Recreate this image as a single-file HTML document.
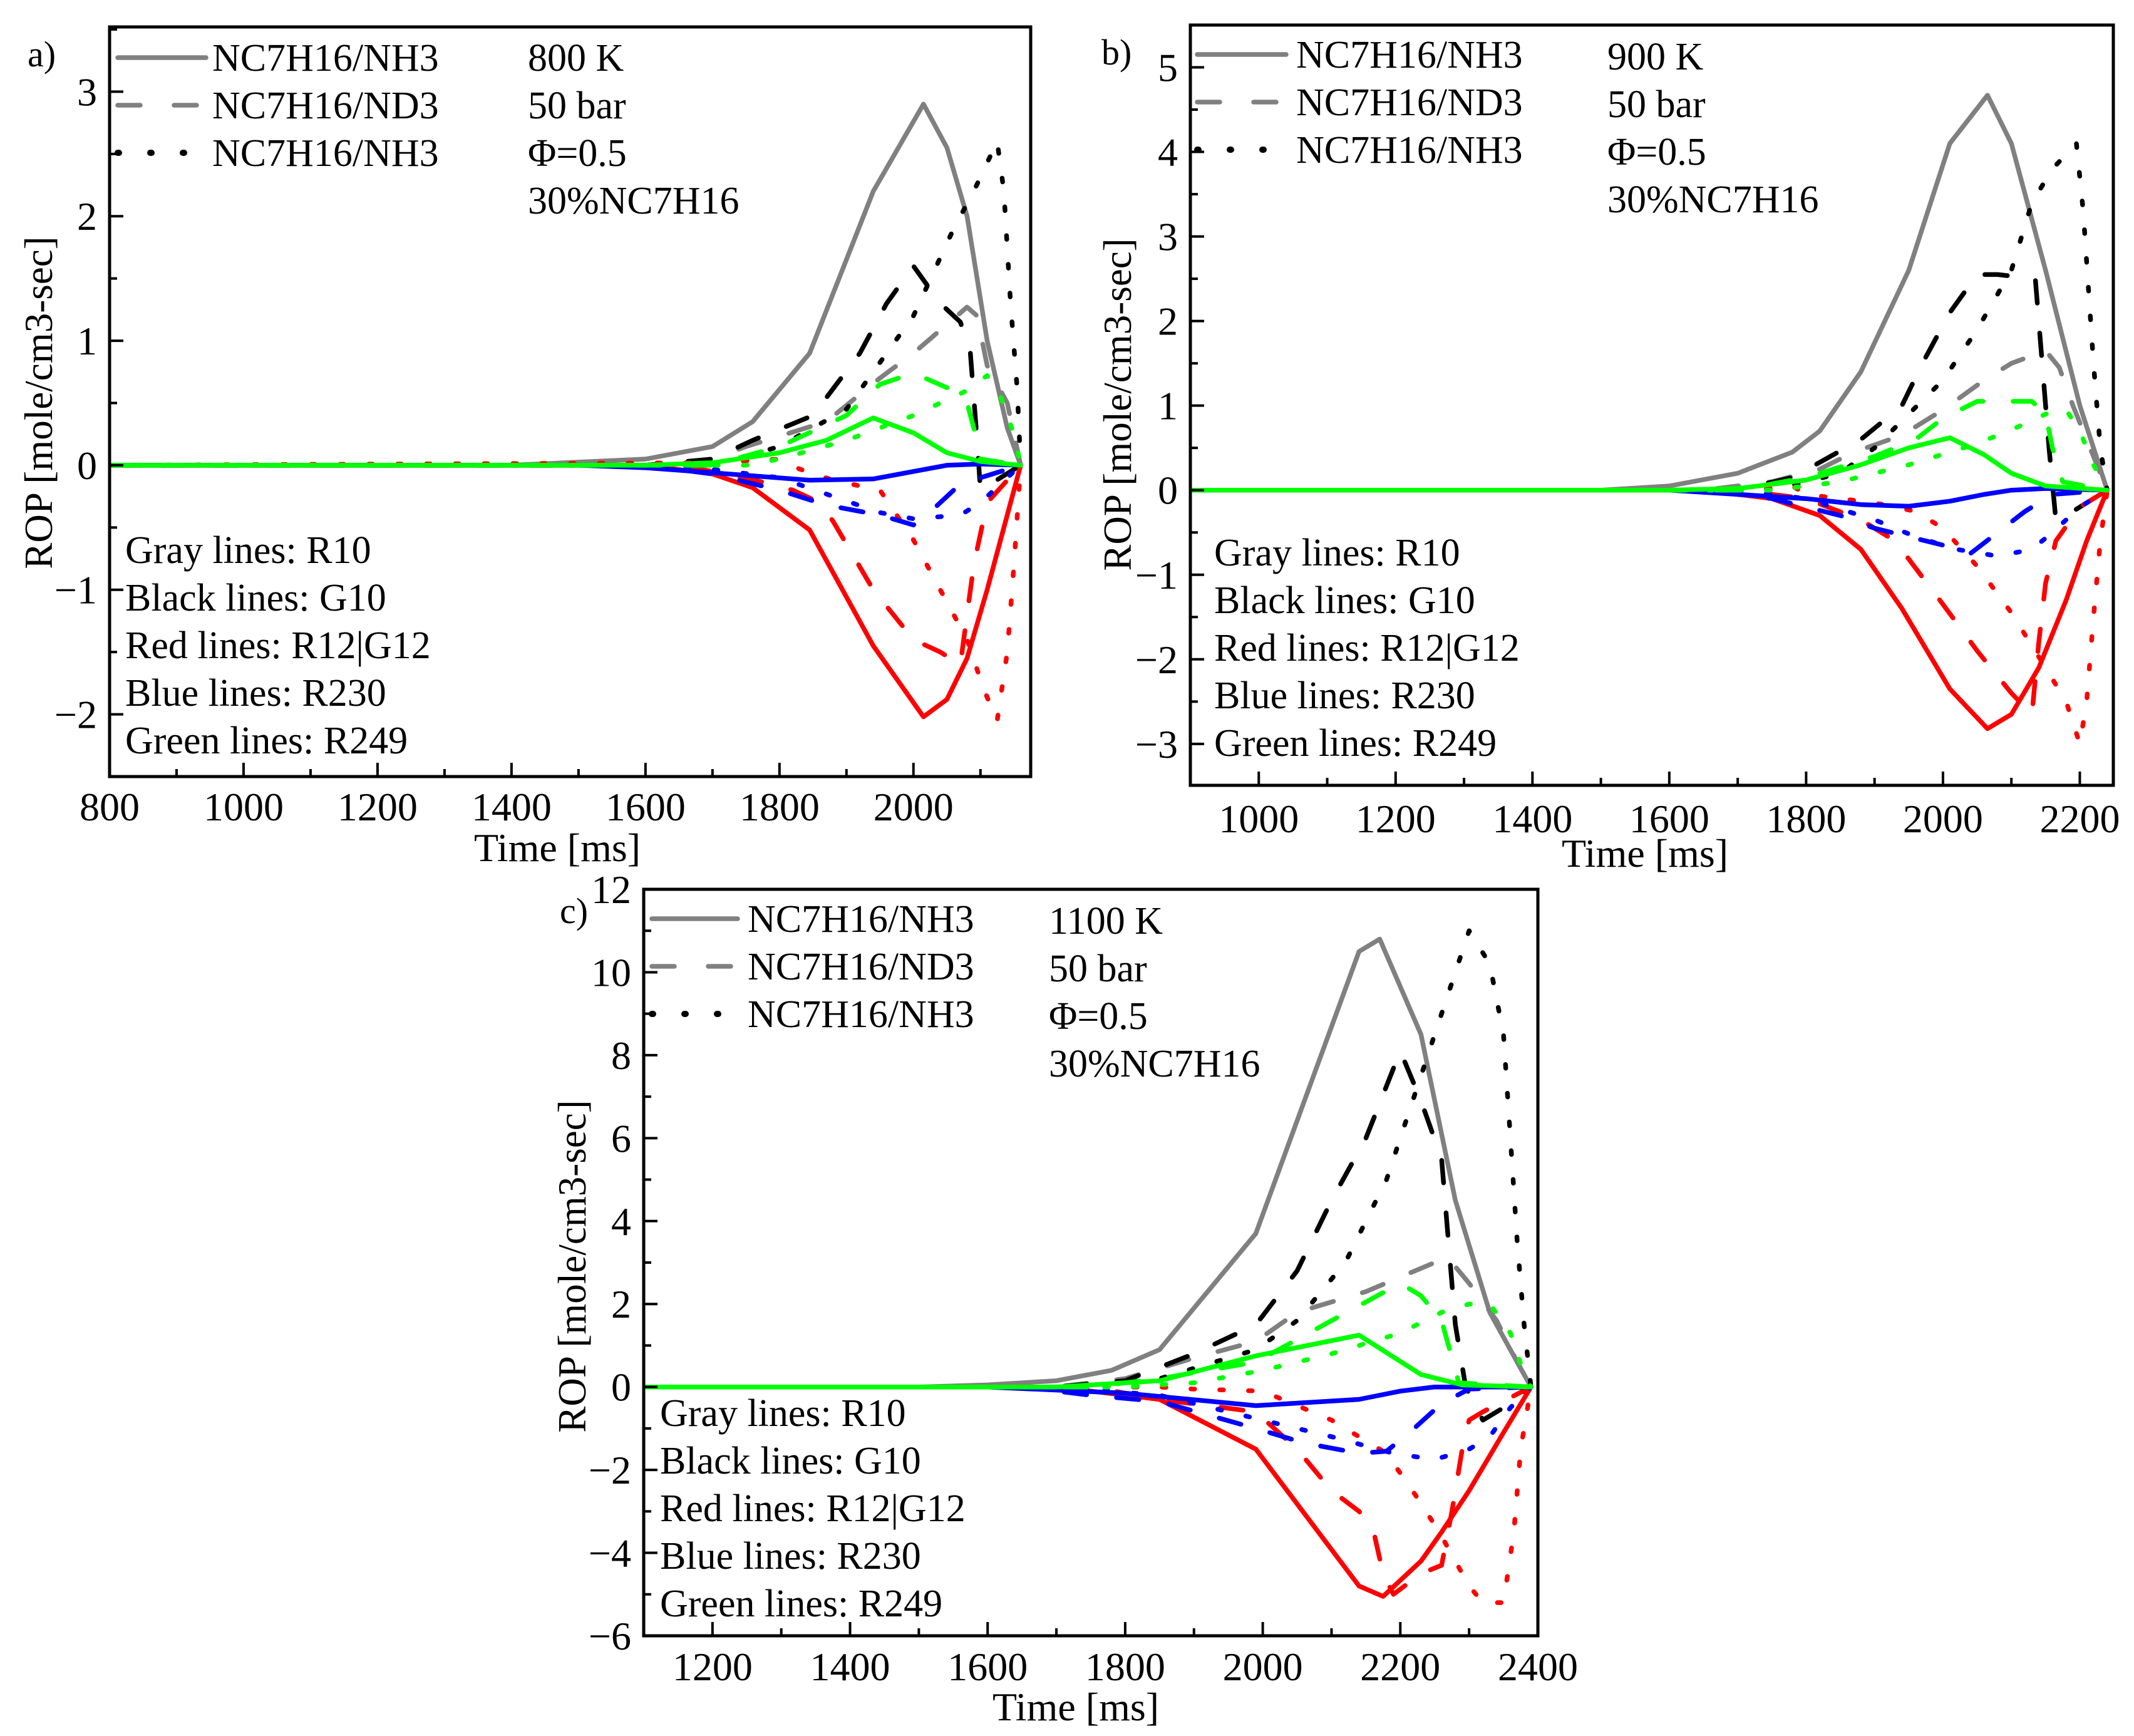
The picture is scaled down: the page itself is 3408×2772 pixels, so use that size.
<!DOCTYPE html>
<html><head><meta charset="utf-8">
<style>
html,body{margin:0;padding:0;background:#fff;}
svg{display:block;}
text{font-family:"Liberation Serif","DejaVu Serif",serif;fill:#000;}
</style></head>
<body>
<svg id="fig" width="3408" height="2772" viewBox="0 0 3408 2772" xmlns="http://www.w3.org/2000/svg"></svg>
<script>
// ===== Panel a (800 K) =====
const a_gray_solid_t=[1400,1600,1700,1760,1845,1940,2015,2050,2080,2110,2140,2160];
const a_gray_solid_y=[0,0.05,0.15,0.35,0.9,2.2,2.9,2.55,2.0,1.0,0.3,0];
const a_gray_dash_t=[1600,1700,1750,1870,1950,2000,2080,2095,2110,2140,2160];
const a_gray_dash_y=[0,0.05,0.15,0.35,0.7,0.9,1.27,1.2,0.8,0.5,0];
const a_black_dash_t=[1600,1700,1760,1850,1920,1960,2000,2040,2070,2085,2095,2100,2130,2160];
const a_black_dash_y=[0,0.05,0.2,0.4,0.9,1.3,1.6,1.3,1.15,0.9,0.2,-0.2,-0.1,0];
const a_black_dot_t=[1700,1800,1900,2000,2060,2090,2125,2135,2145,2155,2160];
const a_black_dot_y=[0,0.15,0.45,1.2,1.9,2.2,2.6,2.2,1.3,0.6,0];
const a_red_solid_t=[1600,1700,1760,1845,1940,2015,2050,2080,2110,2140,2160];
const a_red_solid_y=[0,-0.07,-0.18,-0.52,-1.45,-2.02,-1.88,-1.55,-1.0,-0.4,0];
const a_red_dash_t=[1650,1750,1820,1860,1880,1940,2000,2040,2070,2080,2090,2110,2160];
const a_red_dash_y=[0,-0.1,-0.2,-0.3,-0.45,-1.0,-1.4,-1.5,-1.6,-1.2,-0.8,-0.3,0];
const a_red_dot_t=[1700,1800,1830,1880,1950,2000,2050,2080,2105,2125,2140,2150,2160];
const a_red_dot_y=[0.02,0.05,-0.03,-0.12,-0.2,-0.6,-1.1,-1.4,-1.8,-2.05,-1.5,-0.8,0];
const a_blue_solid_t=[1500,1600,1700,1845,1940,2000,2050,2100,2160];
const a_blue_solid_y=[0,-0.02,-0.06,-0.12,-0.11,-0.05,0,0.01,0];
const a_blue_dash_t=[1600,1700,1800,1870,1950,2000,2030,2060,2100,2160];
const a_blue_dash_y=[0,-0.07,-0.2,-0.32,-0.4,-0.48,-0.35,-0.2,-0.1,0];
const a_blue_dot_t=[1650,1800,1880,1950,2000,2070,2100,2130,2160];
const a_blue_dot_y=[0,-0.1,-0.25,-0.38,-0.43,-0.4,-0.3,-0.15,0];
const a_green_solid_t=[1600,1700,1800,1870,1940,2000,2050,2100,2160];
const a_green_solid_y=[0,0.02,0.1,0.2,0.38,0.26,0.1,0.03,0];
const a_green_dash_t=[1700,1800,1900,1950,2000,2060,2080,2095,2100,2160];
const a_green_dash_y=[0,0.15,0.4,0.65,0.74,0.6,0.5,0.2,0.05,0];
const a_green_dot_t=[1750,1800,1900,2000,2080,2110,2130,2150,2160];
const a_green_dot_y=[0,0.05,0.2,0.4,0.6,0.72,0.55,0.25,0];
const a_xticks=[800,1000,1200,1400,1600,1800,2000];
const a_yticks=[-2,-1,0,1,2,3];

// ===== Panel b (900 K) =====
const b_gray_solid_t=[1500,1600,1700,1780,1820,1880,1950,2010,2065,2100,2150,2200,2240];
const b_gray_solid_y=[0,0.05,0.2,0.45,0.7,1.4,2.6,4.1,4.67,4.1,2.6,1.0,0];
const b_gray_dash_t=[1650,1750,1820,1870,1940,2000,2060,2100,2150,2170,2190,2220,2240];
const b_gray_dash_y=[0,0.1,0.25,0.45,0.65,0.95,1.3,1.5,1.65,1.45,1.0,0.4,0];
const b_black_dash_t=[1700,1780,1880,1940,1970,2010,2050,2080,2135,2145,2155,2165,2180,2240];
const b_black_dash_y=[0,0.15,0.6,1.0,1.5,2.1,2.55,2.55,2.5,1.5,0.5,-0.35,-0.3,0];
const b_black_dot_t=[1750,1850,1900,2000,2050,2100,2130,2160,2195,2205,2220,2230,2240];
const b_black_dot_y=[0,0.2,0.5,1.3,1.9,2.6,3.4,3.8,4.1,3.3,1.5,0.5,0];
const b_red_solid_t=[1650,1750,1820,1880,1940,2010,2065,2100,2140,2180,2210,2240];
const b_red_solid_y=[0,-0.1,-0.3,-0.7,-1.4,-2.35,-2.82,-2.65,-2.1,-1.3,-0.6,0];
const b_red_dash_t=[1700,1800,1880,1930,2000,2050,2100,2130,2140,2150,2165,2200,2240];
const b_red_dash_y=[0,-0.1,-0.35,-0.6,-1.35,-1.9,-2.4,-2.65,-1.8,-1.1,-0.6,-0.2,0];
const b_red_dot_t=[1720,1780,1800,1900,1960,2000,2050,2100,2150,2180,2200,2210,2220,2230,2240];
const b_red_dot_y=[0,0.05,-0.05,-0.15,-0.25,-0.45,-0.9,-1.45,-2.1,-2.5,-3.0,-2.5,-1.5,-0.6,0];
const b_blue_solid_t=[1600,1800,1880,1950,2010,2060,2100,2150,2240];
const b_blue_solid_y=[0,-0.1,-0.17,-0.19,-0.13,-0.05,0,0.02,0];
const b_blue_dash_t=[1650,1750,1850,1900,1950,2000,2040,2080,2120,2160,2240];
const b_blue_dash_y=[0,-0.1,-0.3,-0.45,-0.55,-0.65,-0.75,-0.5,-0.25,-0.05,0];
const b_blue_dot_t=[1700,1800,1900,1960,2020,2080,2130,2160,2200,2240];
const b_blue_dot_y=[0,-0.1,-0.35,-0.55,-0.7,-0.78,-0.7,-0.5,-0.2,0];
const b_green_solid_t=[1600,1700,1800,1880,1950,2010,2060,2100,2150,2240];
const b_green_solid_y=[0,0.02,0.12,0.3,0.5,0.62,0.42,0.2,0.05,0];
const b_green_dash_t=[1700,1800,1900,1960,2000,2050,2090,2130,2150,2160,2175,2240];
const b_green_dash_y=[0,0.15,0.4,0.6,0.85,1.05,1.05,1.05,0.9,0.5,0.1,0];
const b_green_dot_t=[1750,1850,1950,2050,2110,2150,2180,2200,2220,2240];
const b_green_dot_y=[0,0.1,0.3,0.55,0.75,0.9,0.95,0.7,0.3,0];
const b_xticks=[1000,1200,1400,1600,1800,2000,2200];
const b_yticks=[-3,-2,-1,0,1,2,3,4,5];

// ===== Panel c (1100 K) =====
const c_gray_solid_t=[1500,1600,1700,1780,1850,1990,2140,2170,2230,2280,2330,2390];
const c_gray_solid_y=[0,0.05,0.15,0.4,0.9,3.7,10.5,10.8,8.5,4.5,1.8,0];
const c_gray_dash_t=[1700,1800,1900,1990,2050,2150,2250,2270,2300,2340,2370,2390];
const c_gray_dash_y=[0,0.2,0.7,1.1,1.8,2.3,3.0,3.1,2.5,1.6,0.6,0];
const c_black_dash_t=[1700,1800,1900,1990,2050,2100,2150,2200,2230,2260,2270,2280,2295,2320,2350,2390];
const c_black_dash_y=[0,0.15,0.8,1.5,2.8,4.5,6.0,8.1,6.9,5.5,3.5,1.5,0,-0.8,-0.5,0];
const c_black_dot_t=[1750,1850,1990,2050,2120,2180,2230,2270,2300,2330,2350,2360,2370,2380,2390];
const c_black_dot_y=[0,0.2,0.9,1.6,3.0,5.0,7.5,9.5,11.0,10.2,8.5,6.0,3.5,1.5,0];
const c_red_solid_t=[1700,1850,1990,2140,2175,2230,2260,2300,2350,2390];
const c_red_solid_y=[0,-0.3,-1.5,-4.8,-5.05,-4.2,-3.5,-2.5,-1.1,0];
const c_red_dash_t=[1750,1850,1990,2050,2100,2140,2160,2175,2190,2230,2260,2275,2290,2300,2320,2390];
const c_red_dash_y=[0,-0.3,-0.6,-1.5,-2.5,-3.0,-3.4,-4.5,-5.0,-4.5,-4.3,-3.0,-1.5,-0.8,-0.6,0];
const c_red_dot_t=[1850,1900,2000,2100,2180,2230,2260,2300,2320,2350,2365,2375,2390];
const c_red_dot_y=[0,-0.05,-0.1,-0.8,-1.6,-2.8,-3.6,-4.8,-5.2,-5.2,-3.5,-1.5,0];
const c_blue_solid_t=[1600,1800,1990,2140,2200,2250,2390];
const c_blue_solid_y=[0,-0.15,-0.45,-0.3,-0.1,0,0];
const c_blue_dash_t=[1650,1750,1850,1990,2060,2140,2180,2220,2260,2300,2390];
const c_blue_dash_y=[0,-0.2,-0.35,-1.0,-1.35,-1.6,-1.55,-1.0,-0.4,-0.05,0];
const c_blue_dot_t=[1700,1850,2000,2100,2190,2250,2300,2330,2360,2390];
const c_blue_dot_y=[0,-0.2,-0.8,-1.2,-1.6,-1.75,-1.5,-1.2,-0.5,0];
const c_green_solid_t=[1700,1850,1990,2140,2230,2290,2390];
const c_green_solid_y=[0,0.15,0.75,1.25,0.3,0.05,0];
const c_green_dash_t=[1750,1850,1990,2100,2200,2230,2260,2270,2285,2390];
const c_green_dash_y=[0,0.2,0.6,1.6,2.5,2.2,1.6,1.0,0.1,0];
const c_green_dot_t=[1800,1900,2000,2100,2200,2260,2300,2330,2360,2380,2390];
const c_green_dot_y=[0,0.1,0.4,0.8,1.3,1.8,2.0,2.0,1.3,0.3,0];
const c_xticks=[1200,1400,1600,1800,2000,2200,2400];
const c_yticks=[-6,-4,-2,0,2,4,6,8,10,12];

const legendLabels=["NC7H16/NH3","NC7H16/ND3","NC7H16/NH3"];
const infoLabelsA=["800 K","50 bar","Φ=0.5","30%NC7H16"];
const infoLabelsB=["900 K","50 bar","Φ=0.5","30%NC7H16"];
const infoLabelsC=["1100 K","50 bar","Φ=0.5","30%NC7H16"];
const noteLabels=["Gray lines: R10","Black lines: G10","Red lines: R12|G12","Blue lines: R230","Green lines: R249"];

const NS="http://www.w3.org/2000/svg";
const svg=document.getElementById('fig');
function mk(tag,attrs,parent){const e=document.createElementNS(NS,tag);for(const k in attrs)e.setAttribute(k,attrs[k]);(parent||svg).appendChild(e);return e;}
function txt(parent,x,y,s,anchor,size){const t=mk('text',{x:x,y:y,'font-size':size||64,'text-anchor':anchor||'start'},parent);t.textContent=s;return t;}
const COLORS={gray:'#808080',black:'#000000',red:'#ff0000',blue:'#0000ff',green:'#00ff00'};
const DASH={solid:null,dash:'36 48',dot:'6 40'};
function fmt(v){return v<0?'\u2212'+Math.abs(v):String(v);}

function panel(P){
  const g=mk('g',{});
  
  
  const X=v=>P.L+(v-P.x0)/(P.x1-P.x0)*(P.R-P.L);
  const Y=v=>P.B-(v-P.y0)/(P.y1-P.y0)*(P.B-P.T);
  const clipId='clip-'+P.id;
  const cp=mk('clipPath',{id:clipId},g);
  mk('rect',{x:P.L,y:P.T,width:P.R-P.L,height:P.B-P.T},cp);
  const lines=mk('g',{'clip-path':'url(#'+clipId+')'},g);
  
  
  for(const s of P.series){
    let pts=[];
    if(s.t[0]>P.x0) pts.push([X(P.x0),Y(0)]);
    for(let i=0;i<s.t.length;i++) pts.push([X(s.t[i]),Y(s.y[i])]);
    const pl=mk('polyline',{points:pts.map(p=>p[0].toFixed(1)+','+p[1].toFixed(1)).join(' '),fill:'none',stroke:COLORS[s.c],'stroke-width':7.5,'stroke-linecap':'round','stroke-linejoin':'round'},lines);
    if(DASH[s.st]) pl.setAttribute('stroke-dasharray',DASH[s.st]);
    
    
  }
  const fr=mk('rect',{x:P.L,y:P.T,width:P.R-P.L,height:P.B-P.T,fill:'none',stroke:'#000','stroke-width':5},g);
  
  
  const xg=mk('g',{},g);
  
  
  for(let v=Math.ceil(P.x0/P.xminor)*P.xminor; v<=P.x1; v+=P.xminor){
    const major=P.xticks.indexOf(v)>=0;
    mk('line',{x1:X(v),x2:X(v),y1:P.B,y2:P.B-(major?22:12),stroke:'#000','stroke-width':4},xg);
  }
  for(const v of P.xticks){
    const t=txt(xg,X(v),P.xlabY,String(v),'middle');
    
    
  }
  const xt=txt(g,P.xtitleX,P.xtitleY,'Time [ms]','middle');
  
  
  const yg=mk('g',{},g);
  
  
  for(let k=Math.ceil(P.y0/P.yminor); k*P.yminor<=P.y1+1e-9; k++){
    const v=+(k*P.yminor).toFixed(3);
    const major=P.yticks.indexOf(v)>=0;
    mk('line',{x1:P.L,x2:P.L+(major?22:12),y1:Y(v),y2:Y(v),stroke:'#000','stroke-width':4},yg);
  }
  for(const v of P.yticks){
    const t=txt(yg,P.L-20,Y(v)+22,fmt(v),'end');
    
    
  }
  const yt=mk('text',{x:0,y:0,'font-size':63,'text-anchor':'middle',transform:'translate('+P.ytitleX+','+P.ytitleY+') rotate(-90)'},g);
  yt.textContent='ROP [mole/cm3-sec]';
  
  
  const pl=txt(g,P.letX,P.letY,P.id+')','start',58);
  
  
  const lg=mk('g',{},g);
  
  
  const sty=['solid','dash','dot'];const lc=['gray','gray','black'];
  for(let i=0;i<3;i++){
    const cy=P.legY+i*76;
    const ln=mk('line',{x1:P.legX1,x2:P.legX2,y1:cy,y2:cy,stroke:COLORS[lc[i]],'stroke-width':i==2?10:7.5,'stroke-linecap':'round'},lg);
    if(sty[i]=='dash') ln.setAttribute('stroke-dasharray','36 54');
    if(sty[i]=='dot') ln.setAttribute('stroke-dasharray','2 50');
    
    
    const t=txt(lg,P.legTX,cy+21,legendLabels[i],'start',62);
    
    
  }
  for(let i=0;i<4;i++){
    const t=txt(g,P.infoX,P.infoY+i*76,P.info[i],'start',62);
    
    
  }
  for(let i=0;i<5;i++){
    const t=txt(g,P.noteX,P.noteY+i*76,noteLabels[i],'start',62);
    
    
  }
}
const SER={
 a:[['gray','solid',a_gray_solid_t,a_gray_solid_y],['gray','dash',a_gray_dash_t,a_gray_dash_y],['black','dash',a_black_dash_t,a_black_dash_y],['black','dot',a_black_dot_t,a_black_dot_y],['red','solid',a_red_solid_t,a_red_solid_y],['red','dash',a_red_dash_t,a_red_dash_y],['red','dot',a_red_dot_t,a_red_dot_y],['blue','solid',a_blue_solid_t,a_blue_solid_y],['blue','dash',a_blue_dash_t,a_blue_dash_y],['blue','dot',a_blue_dot_t,a_blue_dot_y],['green','solid',a_green_solid_t,a_green_solid_y],['green','dash',a_green_dash_t,a_green_dash_y],['green','dot',a_green_dot_t,a_green_dot_y]],
 b:[['gray','solid',b_gray_solid_t,b_gray_solid_y],['gray','dash',b_gray_dash_t,b_gray_dash_y],['black','dash',b_black_dash_t,b_black_dash_y],['black','dot',b_black_dot_t,b_black_dot_y],['red','solid',b_red_solid_t,b_red_solid_y],['red','dash',b_red_dash_t,b_red_dash_y],['red','dot',b_red_dot_t,b_red_dot_y],['blue','solid',b_blue_solid_t,b_blue_solid_y],['blue','dash',b_blue_dash_t,b_blue_dash_y],['blue','dot',b_blue_dot_t,b_blue_dot_y],['green','solid',b_green_solid_t,b_green_solid_y],['green','dash',b_green_dash_t,b_green_dash_y],['green','dot',b_green_dot_t,b_green_dot_y]],
 c:[['gray','solid',c_gray_solid_t,c_gray_solid_y],['gray','dash',c_gray_dash_t,c_gray_dash_y],['black','dash',c_black_dash_t,c_black_dash_y],['black','dot',c_black_dot_t,c_black_dot_y],['red','solid',c_red_solid_t,c_red_solid_y],['red','dash',c_red_dash_t,c_red_dash_y],['red','dot',c_red_dot_t,c_red_dot_y],['blue','solid',c_blue_solid_t,c_blue_solid_y],['blue','dash',c_blue_dash_t,c_blue_dash_y],['blue','dot',c_blue_dot_t,c_blue_dot_y],['green','solid',c_green_solid_t,c_green_solid_y],['green','dash',c_green_dash_t,c_green_dash_y],['green','dot',c_green_dot_t,c_green_dot_y]]
};
function toSeries(arr){return arr.map(r=>({c:r[0],st:r[1],t:r[2],y:r[3]}));}
panel({id:'a',L:175,R:1646,T:43,B:1240,x0:800,x1:2175,y0:-2.5,y1:3.52,xminor:100,yminor:0.5,
  xticks:a_xticks,yticks:a_yticks,series:toSeries(SER.a),xlabY:1310,xtitleX:890,xtitleY:1375,
  ytitleX:83,ytitleY:643,letX:44,letY:106,legX1:188,legX2:329,legY:92,legTX:339,
  info:infoLabelsA,infoX:843,infoY:113,noteX:200,noteY:899});
panel({id:'b',L:1901,R:3375,T:40,B:1254,x0:900,x1:2249,y0:-3.49,y1:5.5,xminor:100,yminor:0.5,
  xticks:b_xticks,yticks:b_yticks,series:toSeries(SER.b),xlabY:1329,xtitleX:2627,xtitleY:1384,
  ytitleX:1806,ytitleY:646,letX:1759,letY:103,legX1:1912,legX2:2054,legY:87,legTX:2070,
  info:infoLabelsB,infoX:2567,infoY:111,noteX:1939,noteY:903});
panel({id:'c',L:1028,R:2456,T:1420,B:2612,x0:1100,x1:2400,y0:-6,y1:12,xminor:100,yminor:1,
  xticks:c_xticks,yticks:c_yticks,series:toSeries(SER.c),xlabY:2683,xtitleX:1718,xtitleY:2747,
  ytitleX:935,ytitleY:2022,letX:894,letY:1474,legX1:1041,legX2:1178,legY:1467,legTX:1194,
  info:infoLabelsC,infoX:1675,infoY:1491,noteX:1054,noteY:2277});
</script>
</body></html>
